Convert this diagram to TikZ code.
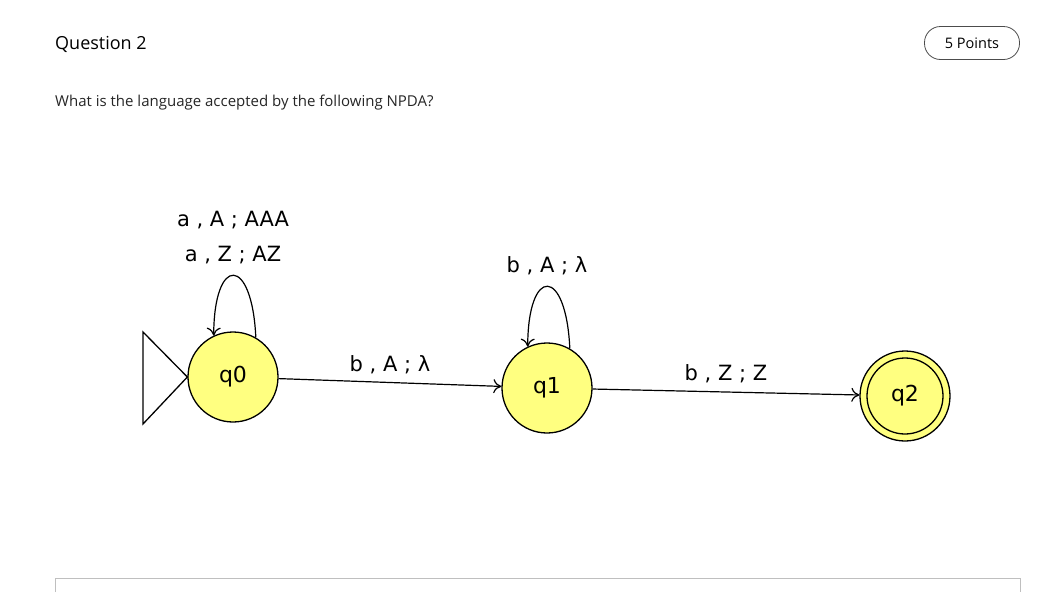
\documentclass[tikz,border=0pt]{standalone}
\usepackage{fontspec}
\setmainfont{Open Sans}
\newfontfamily\diag{DejaVu Sans}
\usetikzlibrary{arrows.meta}
\definecolor{stfill}{HTML}{FFFF80}
\tikzset{
  state/.style={circle,draw,line width=1.3pt,fill=stfill,minimum size=90pt,inner sep=0pt,font=\diag\fontsize{22}{24}\selectfont},
  edge/.style={line width=1.2pt,-{To[length=8pt,width=14pt]}},
  lbl/.style={font=\diag\fontsize{21}{25}\selectfont,inner sep=0pt},
}
\begin{document}
\begin{tikzpicture}[x=1pt,y=-1pt]
\useasboundingbox (0,0) rectangle (1042,592);
\node[anchor=west,font=\fontsize{18}{20}\selectfont,inner sep=0pt] (title) at (55,44) {Question 2};
\node[draw,rounded corners=16pt,minimum width=95pt,minimum height=33pt,font=\fontsize{14.5}{16}\selectfont,line width=0.8pt,draw=black!70] (pts) at (972,43) {5 Points};
\node[anchor=west,font=\fontsize{15}{17}\selectfont,inner sep=0pt,text=black!85] (q) at (55,103) {What is the language accepted by the following NPDA?};
\draw[black!25,line width=0.8pt] (55,592) -- (55,578) -- (1020,578) -- (1020,592);
\node[state] (q0) at (233,377) {q0};
\node[state] (q1) at (547,388) {q1};
\node[state] (q2) at (905,396) {q2};
\node[circle,draw,line width=1.3pt,minimum size=76pt] (q2in) at (905,396) {};
\draw[line width=1.3pt] (q0.west) -- (143,332) -- (143,424) -- cycle;
\draw[edge] (q0) -- node[lbl,above=8pt] {b , A ; λ} (q1);
\draw[edge] (q1) -- node[lbl,above=8pt] {b , Z ; Z} (q2);
\draw[edge] (q0.60) .. controls (252,255) and (214,255) .. (q0.115);
\draw[edge] (q1.60) .. controls (566,266) and (528,266) .. (q1.115);
\node[lbl] (l0a) at (233,220) {a , A ; AAA};
\node[lbl] (l0b) at (233,255) {a , Z ; AZ};
\node[lbl] (l1) at (547,266) {b , A ; λ};
\end{tikzpicture}
\end{document}
